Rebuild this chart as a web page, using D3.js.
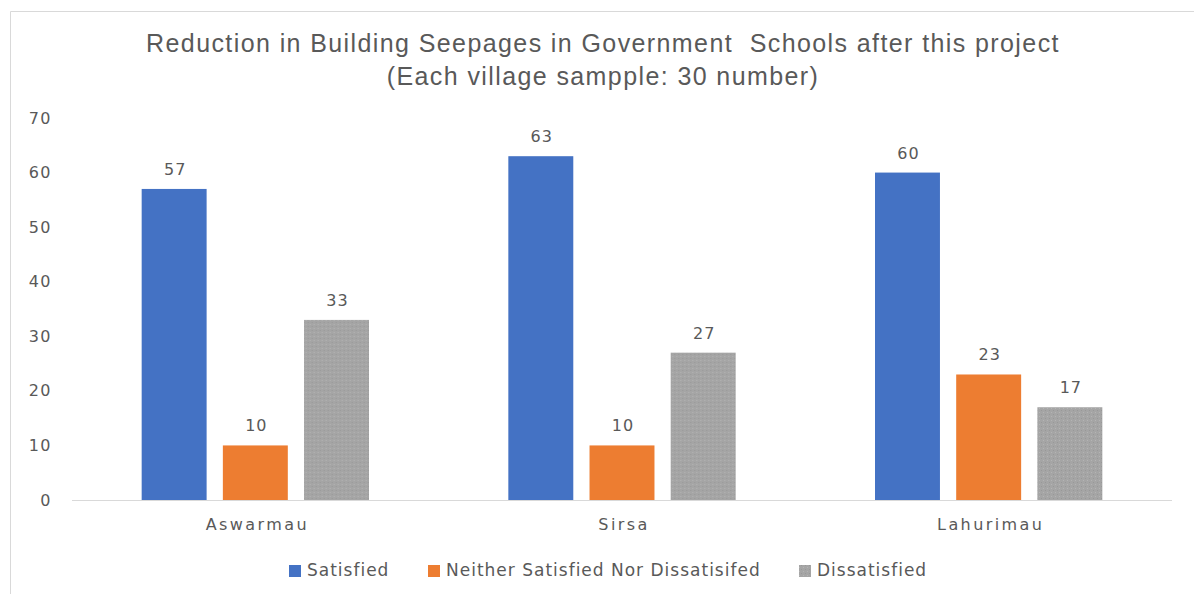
<!DOCTYPE html>
<html>
<head>
<meta charset="utf-8">
<script src="https://cdn.jsdelivr.net/npm/d3@7"></script>
<style>
  body { margin: 0; background: #fff; }
  text { fill: #595959; }
</style>
</head>
<body>
<svg id="chart" width="1194" height="594"></svg>
<script>
'use strict';
const villages = ["Aswarmau", "Sirsa", "Lahurimau"];
const seriesNames = ["Satisfied", "Neither Satisfied Nor Dissatisifed", "Dissatisfied"];
const satisfied = [57, 63, 60];
const neither = [10, 10, 23];
const dissatisfied = [33, 27, 17];
const yTicks = [0, 10, 20, 30, 40, 50, 60, 70];
const colors = ["#4472C4", "#ED7D31", "#A5A5A5"];

let seriesValues = [satisfied, neither, dissatisfied];
let rows = villages.map((v, i) => ({
    village: v,
    values: seriesNames.map((s, j) => ({series: s, value: seriesValues[j][i], idx: j}))
}));

let svg = d3.select("#chart"),
    margin = {top: 118, right: 22, bottom: 94, left: 72},
    width = +svg.attr("width"),
    height = +svg.attr("height");

// frame
svg.append("path")
    .attr("d", "M10.5,594 V11.5 H1194")
    .attr("fill", "none")
    .attr("stroke", "#D9D9D9");

// gray bar texture
let defs = svg.append("defs");
let pat = defs.append("pattern")
    .attr("id", "grayTex")
    .attr("width", 4).attr("height", 4)
    .attr("patternUnits", "userSpaceOnUse");
pat.append("rect").attr("width", 4).attr("height", 4).attr("fill", "#A5A5A5");
pat.append("rect").attr("x", 0).attr("y", 0).attr("width", 1).attr("height", 1).attr("fill", "#B4B4B4");
pat.append("rect").attr("x", 2).attr("y", 2).attr("width", 1).attr("height", 1).attr("fill", "#989898");

let fills = [colors[0], colors[1], "url(#grayTex)"];

let x0 = d3.scaleBand()
    .domain(villages)
    .range([margin.left, width - margin.right])
    .paddingInner(0.38)
    .paddingOuter(0.19);

let x1 = d3.scaleBand()
    .domain(seriesNames)
    .range([0, x0.bandwidth()])
    .paddingInner(0.2);

let y = d3.scaleLinear()
    .domain([0, 70])
    .range([height - margin.bottom, margin.top]);

// title
let title = svg.append("text")
    .attr("text-anchor", "middle")
    .style("font-family", "'Liberation Sans', Arial, sans-serif")
    .style("font-size", "25px")
    .style("letter-spacing", "1.4px")
    .attr("xml:space", "preserve");
title.append("tspan").attr("x", 603).attr("y", 52)
    .text("Reduction in Building Seepages in Government  Schools after this project");
title.append("tspan").attr("x", 603).attr("y", 85)
    .text("(Each village sampple: 30 number)");

// y axis labels
let yAxis = svg.append("g")
    .attr("transform", "translate(" + margin.left + ",0)")
    .call(d3.axisLeft(y).tickValues(yTicks).tickSize(0).tickPadding(20));
yAxis.select(".domain").remove();
yAxis.selectAll("text")
    .style("font-family", "'DejaVu Sans', sans-serif")
    .style("font-size", "16px")
    .style("letter-spacing", "1.5px")
    .attr("fill", "#595959");

// baseline
svg.append("line")
    .attr("x1", margin.left).attr("x2", width - margin.right)
    .attr("y1", y(0) + 0.5).attr("y2", y(0) + 0.5)
    .attr("stroke", "#D9D9D9");

// bars
let g = svg.selectAll(".grp")
    .data(rows)
    .enter().append("g")
    .attr("class", "grp")
    .attr("transform", d => "translate(" + x0(d.village) + ",0)");

g.selectAll("rect")
    .data(d => d.values)
    .enter().append("rect")
    .attr("x", d => x1(d.series))
    .attr("y", d => y(d.value))
    .attr("width", x1.bandwidth())
    .attr("height", d => y(0) - y(d.value))
    .attr("fill", d => fills[d.idx]);

g.selectAll("text.val")
    .data(d => d.values)
    .enter().append("text")
    .attr("class", "val")
    .attr("x", d => x1(d.series) + x1.bandwidth() / 2 + 1)
    .attr("y", d => y(d.value) - 14)
    .attr("text-anchor", "middle")
    .style("font-family", "'DejaVu Sans', sans-serif")
    .style("font-size", "16px")
    .style("letter-spacing", "1px")
    .text(d => d.value);

// x labels
svg.selectAll("text.cat")
    .data(villages)
    .enter().append("text")
    .attr("class", "cat")
    .attr("x", d => x0(d) + x0.bandwidth() / 2 + 2)
    .attr("y", height - margin.bottom + 30)
    .attr("text-anchor", "middle")
    .style("font-family", "'DejaVu Sans', sans-serif")
    .style("font-size", "16px")
    .style("letter-spacing", "2.4px")
    .text(d => d);

// legend
let legendX = [289, 428, 799];
let legend = svg.selectAll(".leg")
    .data(seriesNames)
    .enter().append("g")
    .attr("class", "leg")
    .attr("transform", (d, i) => "translate(" + legendX[i] + ",563)");
legend.append("rect")
    .attr("width", 12).attr("height", 12)
    .attr("y", 2)
    .attr("fill", (d, i) => fills[i]);
legend.append("text")
    .attr("x", 18).attr("y", 13)
    .style("font-family", "'DejaVu Sans', sans-serif")
    .style("font-size", "17px")
    .style("letter-spacing", "1px")
    .text(d => d);
</script>
</body>
</html>
